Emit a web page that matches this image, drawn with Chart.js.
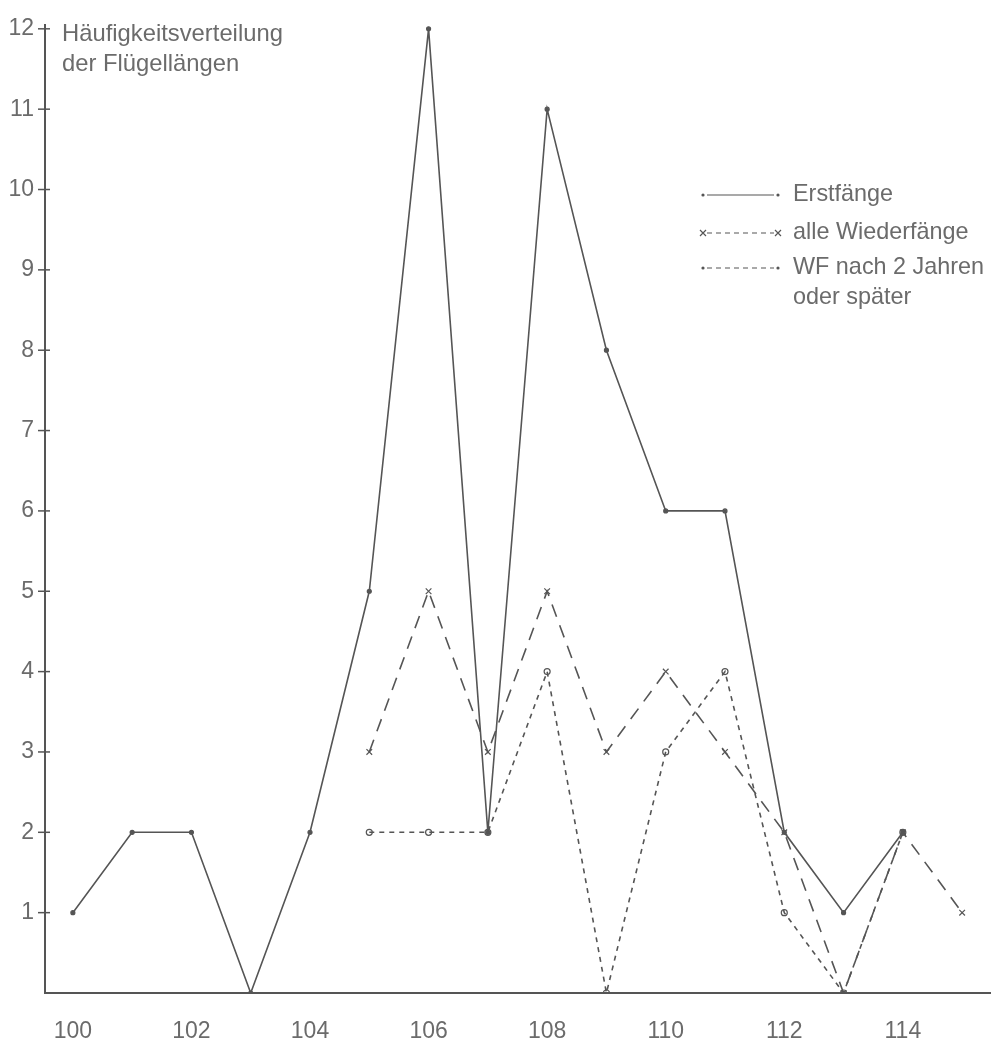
<!DOCTYPE html>
<html>
<head>
<meta charset="utf-8">
<script src="https://cdn.jsdelivr.net/npm/chart.js@4"></script>
<style>
html,body{margin:0;padding:0;background:#fff;}
#wrap{position:relative;width:999px;height:1041px;}
</style>
</head>
<body>
<div id="wrap"><canvas id="c" width="999" height="1041"></canvas></div>
<script>
const lengths = [100,101,102,103,104,105,106,107,108,109,110,111,112,113,114,115];
const erstfaenge = [1,2,2,0,2,5,12,2,11,8,6,6,2,1,2,null];
const alleWiederfaenge = [null,null,null,null,null,3,5,3,5,3,4,3,2,0,2,1];
const wfNach2Jahren = [null,null,null,null,null,2,2,2,4,0,3,4,1,0,2,null];
const xTickLabels = [100,102,104,106,108,110,112,114];
const yTickLabels = [1,2,3,4,5,6,7,8,9,10,11,12];
const titleLines = ['Häufigkeitsverteilung','der Flügellängen'];
const legendLabels = [['Erstfänge'],['alle Wiederfänge'],['WF nach 2 Jahren','oder später']];

const FONT = '"Liberation Sans", Arial, sans-serif';
const TXT = '#6b6b6b';
const LINE = '#555555';

function pts(arr){ return lengths.map((x,i)=>({x:x,y:arr[i]})); }

const dsStyles = [
  {dash:[], pointStyle:'circle', radius:2, fill:true},
  {dash:[13,9], pointStyle:'crossRot', radius:4, fill:false},
  {dash:[5,5], pointStyle:'circle', radius:3, fill:false}
];

const overlay = {
  id:'overlay',
  afterDraw(chart){
    const ctx = chart.ctx;
    const ys = chart.scales.y, xs = chart.scales.x;
    ctx.save();
    ctx.strokeStyle = LINE; ctx.lineWidth = 1.5;
    yTickLabels.forEach(v=>{
      const py = ys.getPixelForValue(v);
      ctx.beginPath(); ctx.moveTo(xs.left-7, py); ctx.lineTo(xs.left+5, py); ctx.stroke();
    });
    ctx.fillStyle = TXT; ctx.font = '23.8px '+FONT; ctx.textBaseline = 'middle'; ctx.textAlign='left';
    titleLines.forEach((t,i)=>ctx.fillText(t, 62, 34 + i*30));
    const rows = [195, 233, 268];
    const x0 = 703, x1 = 778;
    legendLabels.forEach((lab,i)=>{
      const y = rows[i];
      ctx.strokeStyle = LINE; ctx.lineWidth = 1.2;
      ctx.setLineDash(i===0?[]:[5,4]);
      ctx.beginPath(); ctx.moveTo(x0+4,y); ctx.lineTo(x1-4,y); ctx.stroke();
      ctx.setLineDash([]);
      [x0,x1].forEach(px=>{
        if(i===1){
          ctx.beginPath(); ctx.moveTo(px-3,y-3); ctx.lineTo(px+3,y+3); ctx.moveTo(px-3,y+3); ctx.lineTo(px+3,y-3); ctx.stroke();
        } else {
          ctx.fillStyle = LINE; ctx.beginPath(); ctx.arc(px,y,1.6,0,Math.PI*2); ctx.fill();
        }
      });
      ctx.fillStyle = TXT; ctx.font = '23.4px '+FONT;
      lab.forEach((t,j)=>ctx.fillText(t, 793, y + j*30));
    });
    ctx.restore();
  }
};

new Chart(document.getElementById('c'), {
  type:'line',
  data:{
    datasets:[
      {label:'Erstfänge', data:pts(erstfaenge)},
      {label:'alle Wiederfänge', data:pts(alleWiederfaenge)},
      {label:'WF nach 2 Jahren oder später', data:pts(wfNach2Jahren)}
    ].map((d,i)=>Object.assign(d,{
      borderColor:LINE, borderWidth:1.6, borderDash:dsStyles[i].dash,
      pointStyle:dsStyles[i].pointStyle, pointRadius:dsStyles[i].radius,
      pointBorderColor:LINE, pointBackgroundColor: dsStyles[i].fill?LINE:'rgba(0,0,0,0)',
      pointBorderWidth:1.2, tension:0, spanGaps:false, fill:false
    }))
  },
  options:{
    responsive:false, animation:false,
    layout:{padding:{top:17, right:9, left:0, bottom:0}},
    plugins:{legend:{display:false}, tooltip:{enabled:false}, title:{display:false}},
    scales:{
      x:{
        type:'linear', min:99.53, max:115.47,
        afterBuildTicks(s){ s.ticks = xTickLabels.map(v=>({value:v})); },
        afterFit(s){ s.height = 48; },
        grid:{display:false, drawTicks:false},
        border:{display:true, color:LINE, width:2},
        ticks:{color:TXT, font:{family:FONT, size:23}, padding:25, maxRotation:0, autoSkip:false}
      },
      y:{
        type:'linear', min:0, max:12.05,
        afterBuildTicks(s){ s.ticks = yTickLabels.map(v=>({value:v})); },
        afterFit(s){ s.width = 45; },
        grid:{display:false, drawTicks:false},
        border:{display:true, color:LINE, width:2},
        ticks:{color:TXT, font:{family:FONT, size:23}, padding:11, autoSkip:false}
      }
    }
  },
  plugins:[overlay]
});
</script>
</body>
</html>
